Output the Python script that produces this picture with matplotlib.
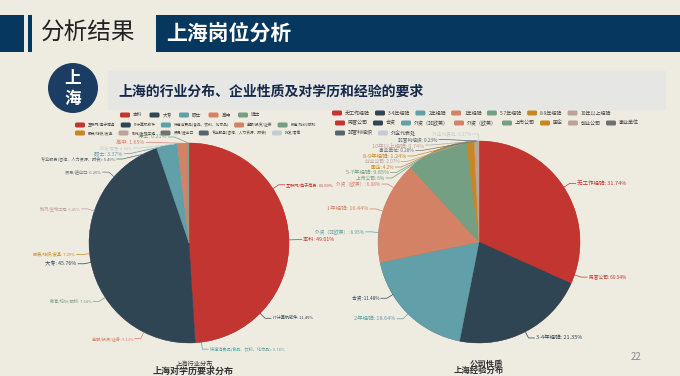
import matplotlib
matplotlib.use('Agg')
import matplotlib.pyplot as plt
from matplotlib.patches import Rectangle, Circle, FancyBboxPatch
import numpy as np

plt.rcParams['font.family'] = ['Noto Sans CJK SC', 'DejaVu Sans']

# echarts style palette
palette = ['#c23531', '#2f4554', '#61a0a8', '#d48265', '#749f83',
           '#ca8622', '#bda29a', '#6e7074', '#546570', '#c4ccd3']

# left chart: education (top pie) over industry (hidden pie)
edu_names = ['本科', '大专', '硕士', '高中', '博士']
edu_values = [49.01, 45.76, 3.37, 1.65, 0.21]

industry_names = ['互联网/电子商务', 'IT计算机软件', '快速消费品(食品、饮料、化妆品)',
                  '金融/投资/证券', '教育/培训/院校', '服装/纺织/皮革', '制药/生物工程',
                  '贸易/进出口', '专业服务(咨询、人力资源、财会)', '批发/零售']
industry_values = [31.69, 11.45, 9.74, 9.13, 7.64, 7.29, 6.45, 6.26, 5.49, 4.86]

# right chart: experience (top pie) over company type (hidden pie)
exp_names = ['无工作经验', '3-4年经验', '2年经验', '1年经验', '5-7年经验', '8-9年经验', '10年以上经验']
exp_values = [31.74, 21.35, 18.64, 16.44, 9.85, 1.24, 0.74]

company_names = ['民营公司', '合资', '外资（非欧美）', '外资（欧美）', '上市公司', '国企',
                 '创业公司', '事业单位', '非营利组织', '外企代表处']
company_values = [60.54, 11.48, 8.95, 6.08, 6.0, 4.2, 2.07, 0.28, 0.23, 0.17]

W, H = 680, 376
bg = '#eeebe1'
navy = '#06375f'

fig = plt.figure(figsize=(W / 100, H / 100), dpi=100, facecolor=bg)
ax = fig.add_axes([0, 0, 1, 1])
ax.set_facecolor(bg)


def Y(y):
    # pixel row (from top) -> data y
    return H - y


# header
ax.add_patch(Rectangle((0, Y(52)), 24, 37, color=navy, lw=0))
ax.add_patch(Rectangle((28, Y(52)), 3.5, 37, color=navy, lw=0))
ax.text(41, Y(33), '分析结果', fontsize=17, color='#222222', va='center')
ax.add_patch(Rectangle((156, Y(52)), W - 156, 37, color=navy, lw=0))
ax.text(166, Y(33), '上海岗位分析', fontsize=15, color='white', va='center', fontweight='bold')

# sub title
ax.add_patch(Rectangle((108, Y(110)), 558, 39, color='#e6e6e4', lw=0))
ax.add_patch(Circle((73, Y(88)), 25, color='#1c3d63', lw=0))
ax.text(73, Y(78), '上', fontsize=12, color='white', ha='center', va='center', fontweight='bold')
ax.text(73, Y(99), '海', fontsize=12, color='white', ha='center', va='center', fontweight='bold')
ax.text(118, Y(92), '上海的行业分布、企业性质及对学历和经验的要求', fontsize=10,
        color='#15294a', va='center', fontweight='bold')

fig.canvas.draw()
renderer = fig.canvas.get_renderer()


def legend_row(names, colors, x0, y, fs, gap=5):
    x = x0
    for name, c in zip(names, colors):
        ax.add_patch(FancyBboxPatch((x, Y(y) - 2.5), 10, 5, boxstyle='round,pad=0,rounding_size=1.5',
                                    color=c, lw=0))
        t = ax.text(x + 13, Y(y), name, fontsize=fs, color='#444444', va='center')
        w = t.get_window_extent(renderer).width
        x += 13 + w + gap


legend_row(edu_names, palette[:5], 120, 115, 3.4, gap=7)
legend_row(industry_names[:5], palette[:5], 75, 125, 2.7)
legend_row(industry_names[5:], palette[5:10], 75, 133, 2.7)
legend_row(exp_names, palette[:7], 332, 113, 3.6)
legend_row(company_names[:8], palette[:8], 335, 123, 3.6)
legend_row(company_names[8:], palette[8:10], 335, 133, 3.6)


def pie(values, cx, cy, r, top):
    wedges, _ = ax.pie(values, colors=palette[:len(values)], startangle=90, counterclock=False,
                       radius=r, center=(cx, Y(cy)), frame=True,
                       wedgeprops=dict(linewidth=0.3 if top else 0))
    for w in wedges:
        w.set_edgecolor(w.get_facecolor())
    return wedges


def labels(groups, cx, cy, r, top_px, gap=5.5):
    cy = Y(cy)
    R = r + 7
    items = []
    for wedges, names, values, fs in groups:
        for w, name, v in zip(wedges, names, values):
            a = np.deg2rad((w.theta1 + w.theta2) / 2)
            side = 1 if np.cos(a) >= 0 else -1
            items.append(dict(a=a, side=side, y=cy + R * np.sin(a),
                              text=f'{name}: {v:g}%', color=w.get_facecolor(), fs=fs))
    for side in (1, -1):
        grp = sorted([it for it in items if it['side'] == side], key=lambda it: -it['y'])
        prev = Y(top_px) + gap
        for it in grp:
            it['y'] = min(it['y'], prev - gap)
            prev = it['y']
    for it in items:
        a, s = it['a'], it['side']
        px, py = cx + r * np.cos(a), cy + r * np.sin(a)
        dy = it['y'] - cy
        ex = cx + s * np.sqrt(max(R * R - dy * dy, 0)) if abs(dy) < R else cx + R * np.cos(a)
        hx = ex + s * 6
        ax.plot([px, ex, hx], [py, it['y'], it['y']], color=it['color'], lw=0.5)
        ax.text(hx + s * 1.5, it['y'], it['text'], fontsize=it['fs'], color=it['color'],
                ha='left' if s > 0 else 'right', va='center')


# left chart
w_ind = pie(industry_values, 189, 243, 100, False)
w_edu = pie(edu_values, 189, 243, 100, True)
labels([(w_edu, edu_names, edu_values, 3.8), (w_ind, industry_names, industry_values, 3.0)],
       189, 243, 100, 137)

# right chart
w_com = pie(company_values, 479, 242, 101, False)
w_exp = pie(exp_values, 479, 242, 101, True)
labels([(w_exp, exp_names, exp_values, 4.0), (w_com, company_names, company_values, 3.4)],
       479, 242, 101, 134)

# chart titles at the bottom
ax.text(194, Y(364), '上海行业分布', fontsize=4.5, color='#333333', ha='center', va='center')
ax.text(193, Y(371), '上海对学历要求分布', fontsize=6.5, color='#333333', ha='center', va='center',
        fontweight='bold')
ax.text(486, Y(364), '公司性质', fontsize=6, color='#333333', ha='center', va='center', fontweight='bold')
ax.text(479, Y(370), '上海经验分布', fontsize=6, color='#333333', ha='center', va='center',
        fontweight='bold')

ax.text(636, Y(357), '22', fontsize=7, color='#888888', ha='center', va='center')

ax.set_aspect('auto')
ax.set_xlim(0, W)
ax.set_ylim(0, H)
ax.axis('off')

fig.savefig('out.png', dpi=100, facecolor=bg)
